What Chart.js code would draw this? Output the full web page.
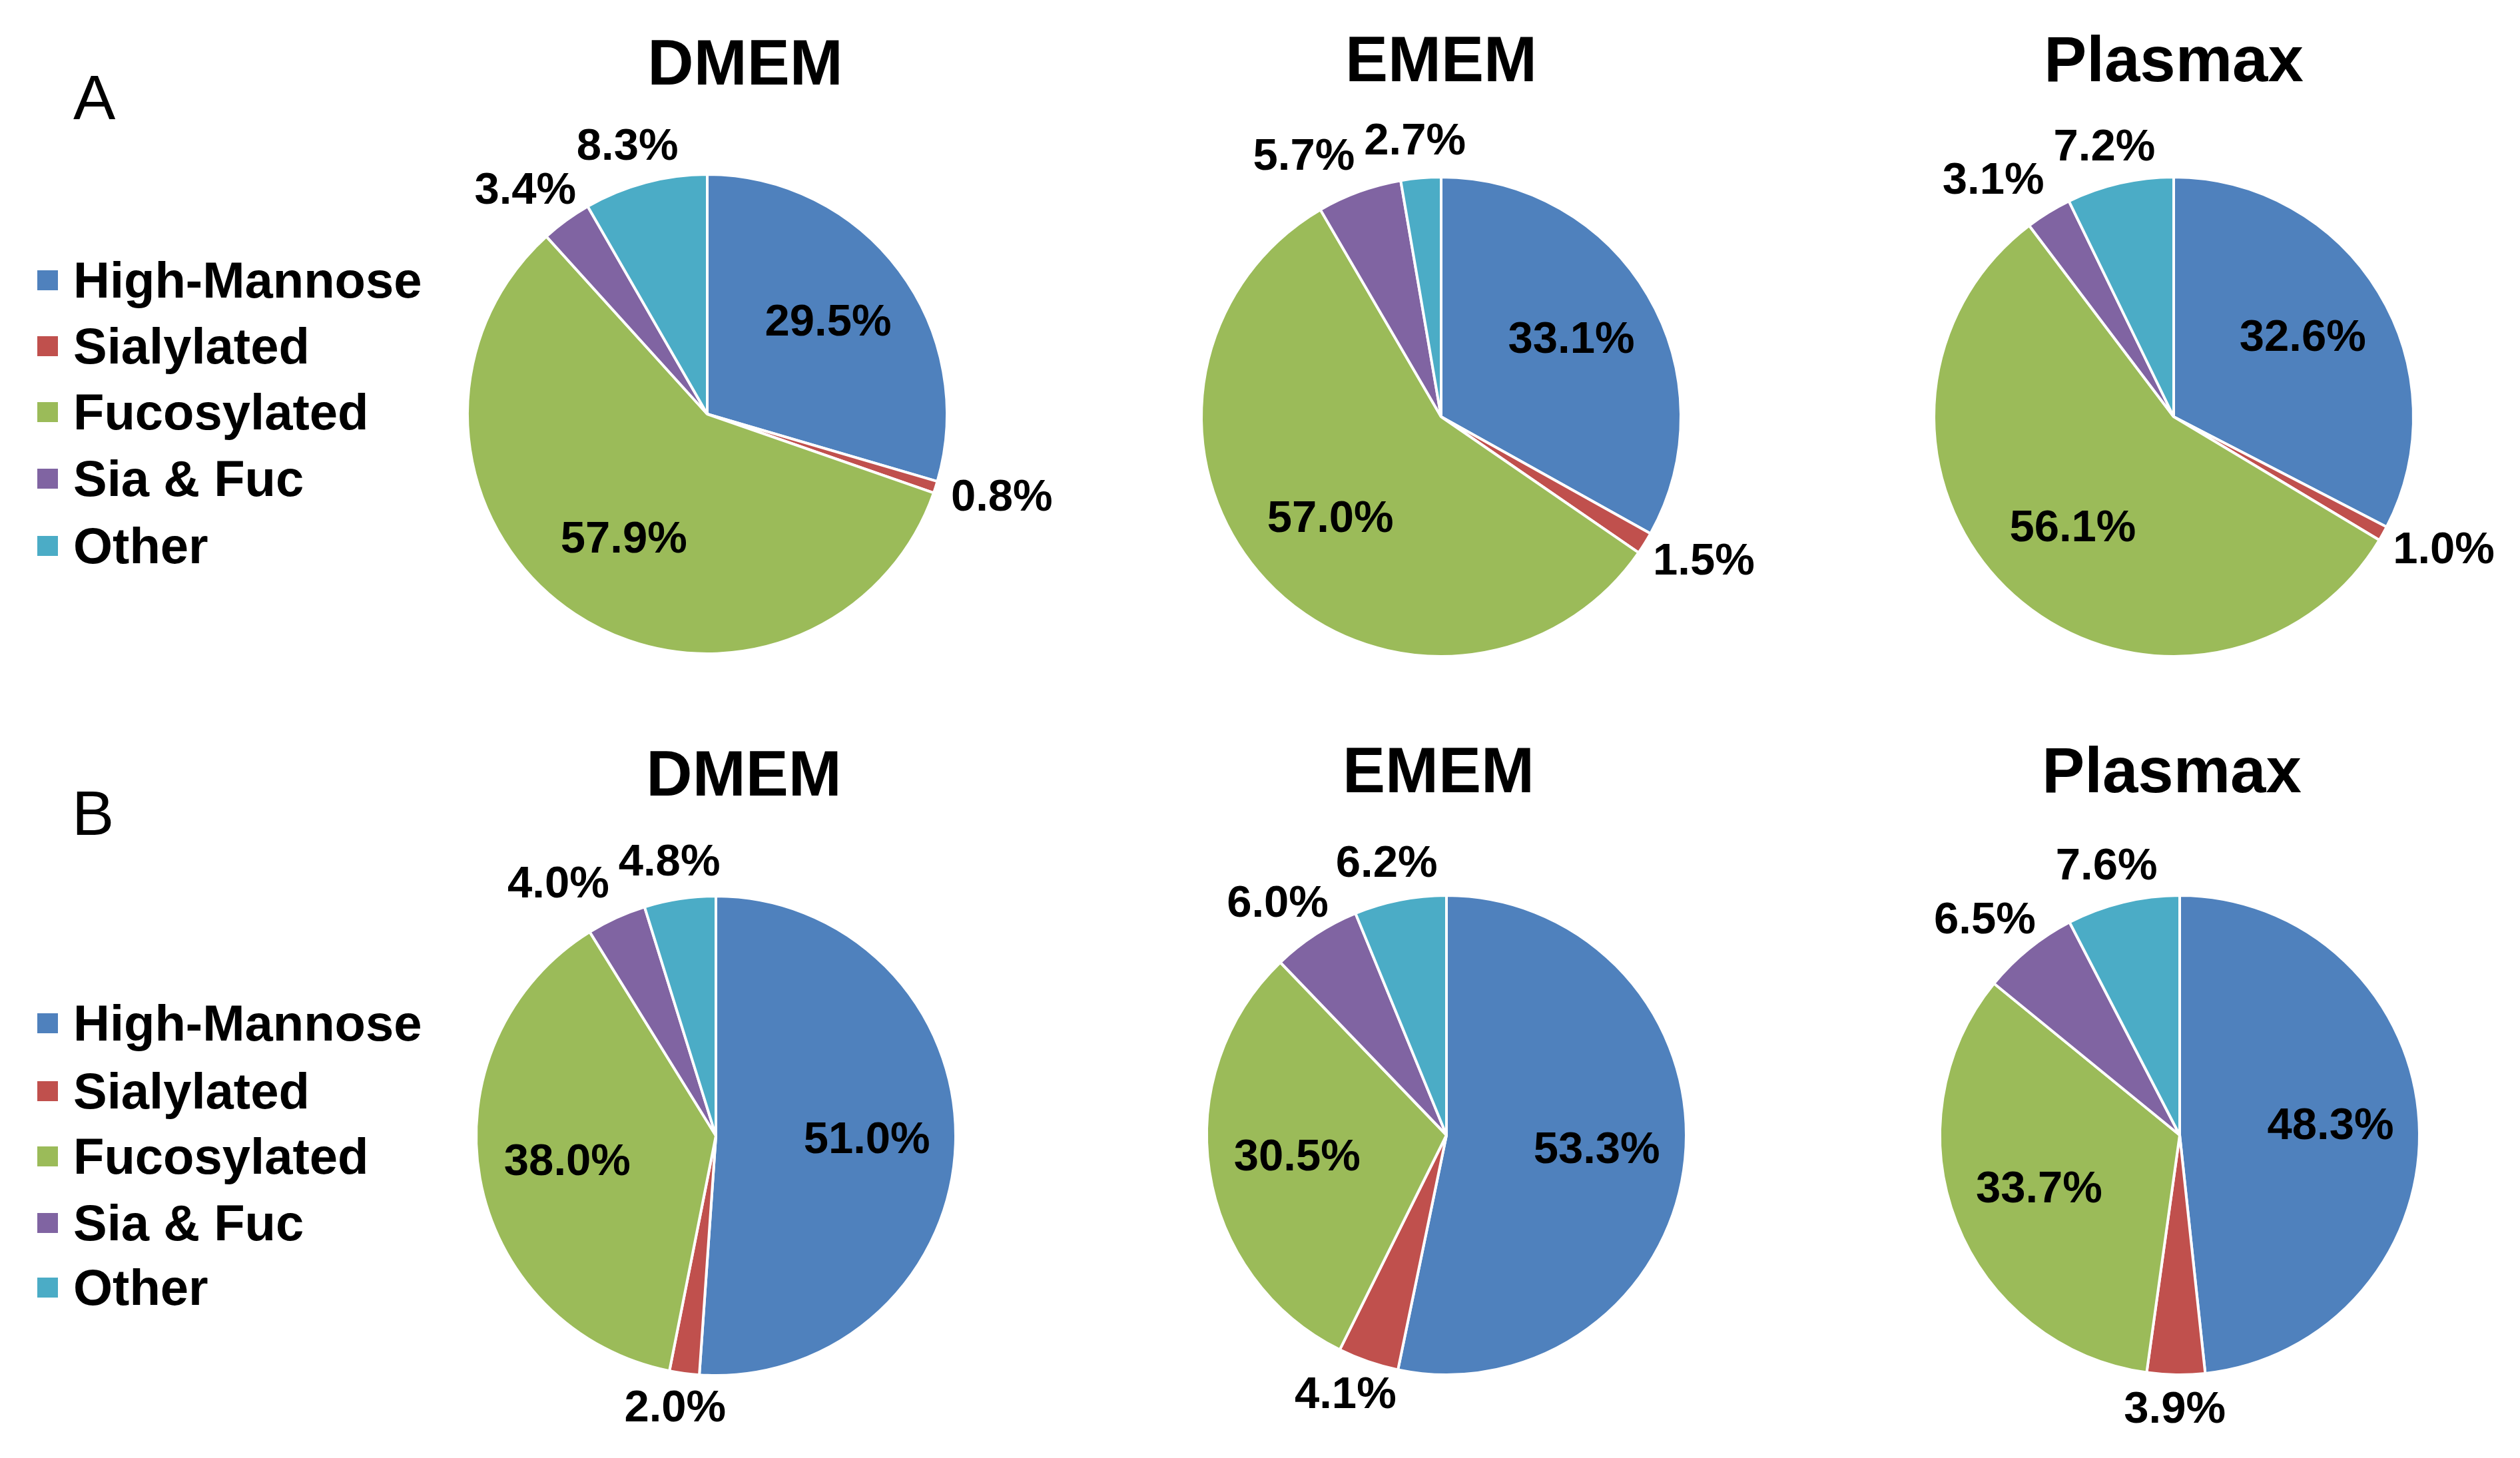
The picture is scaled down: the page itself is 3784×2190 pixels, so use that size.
<!DOCTYPE html>
<html>
<head>
<meta charset="utf-8">
<script src="https://cdn.jsdelivr.net/npm/chart.js@4.4.1/dist/chart.umd.min.js"></script>
<style>
body { margin: 0; width: 3784px; height: 2190px; overflow: hidden; background: #fff; position: relative; font-family: "Liberation Sans", Arial, sans-serif; }
.txt { position: absolute; white-space: nowrap; line-height: 1; color: #000; }
canvas { position: absolute; }
</style>
</head>
<body>
<script>
// categories and colours (Excel 2010 palette)
const categories = ['High-Mannose', 'Sialylated', 'Fucosylated', 'Sia & Fuc', 'Other'];
const sliceColors = ['#4F81BD', '#C0504D', '#9BBB59', '#8064A2', '#4BACC6'];
const media = ['DMEM', 'EMEM', 'Plasmax'];
const panels = ['A', 'B'];

// percentages, in category order
const dmemA = [29.5, 0.8, 57.9, 3.4, 8.3];
const ememA = [33.1, 1.5, 57.0, 5.7, 2.7];
const plasmaxA = [32.6, 1.0, 56.1, 3.1, 7.2];
const dmemB = [51.0, 2.0, 38.0, 4.0, 4.8];
const ememB = [53.3, 4.1, 30.5, 6.0, 6.2];
const plasmaxB = [48.3, 3.9, 33.7, 6.5, 7.6];

const rowsData = [[dmemA, ememA, plasmaxA], [dmemB, ememB, plasmaxB]];

// page layout
const pieCenters = [
    [[1062, 622], [2164, 626], [3264, 626]],
    [[1075, 1706], [2172, 1705], [3273, 1705]]
];
const titlePos = [
    [[1119, 127], [2164, 122], [3264, 122]],
    [[1117, 1195], [2160, 1190], [3261, 1190]]
];
const panelLetterPos = [[110, 179], [108, 1254]];
const legendRows = [[421, 520, 619, 719, 820], [1537, 1639, 1737, 1837, 1934]];
const CANVAS = 1100;
const RADIUS = 360;

function addText(str, left, baseline, size, bold, center) {
    const d = document.createElement('div');
    d.className = 'txt';
    d.textContent = str;
    d.style.fontSize = size + 'px';
    d.style.fontWeight = bold ? 'bold' : 'normal';
    d.style.top = (baseline - 0.8465 * size) + 'px';
    d.style.left = left + 'px';
    if (center) d.style.transform = 'translateX(-50%)';
    document.body.appendChild(d);
}

// percentage labels, placed from the arcs the library computed
const sliceLabels = {
    id: 'sliceLabels',
    afterDatasetsDraw(chart) {
        const ctx = chart.ctx;
        const meta = chart.getDatasetMeta(0);
        const values = chart.data.datasets[0].data;
        const total = values.reduce((a, b) => a + b, 0);
        ctx.save();
        ctx.font = 'bold 67px "Liberation Sans", Arial, sans-serif';
        ctx.fillStyle = '#000';
        ctx.textAlign = 'center';
        ctx.textBaseline = 'middle';
        const outside = [];
        meta.data.forEach((arc, i) => {
            const p = arc.getProps(['x', 'y', 'startAngle', 'endAngle', 'outerRadius'], true);
            const mid = (p.startAngle + p.endAngle) / 2;
            const dx = Math.cos(mid), dy = Math.sin(mid);
            const text = values[i].toFixed(1) + '%';
            const w = ctx.measureText(text).width;
            const h = 52;
            if (values[i] / total > 0.15) {
                const rr = p.outerRadius * 0.63;
                ctx.fillText(text, p.x + dx * rr, p.y + dy * rr);
            } else {
                const rr = p.outerRadius + 28;
                outside.push({ text: text, w: w, h: h, x: p.x + dx * rr + dx * w / 2, y: p.y + dy * rr + dy * h / 2 });
            }
        });
        // push overlapping outside labels apart, last slice first
        const placed = [];
        for (let k = outside.length - 1; k >= 0; k--) {
            const L = outside[k];
            placed.forEach(o => {
                if (Math.abs(L.x - o.x) < (L.w + o.w) / 2 + 8 && Math.abs(L.y - o.y) < (L.h + o.h) / 2) {
                    const s = L.x < o.x ? -1 : 1;
                    L.x = o.x + s * ((L.w + o.w) / 2 + 14);
                }
            });
            placed.push(L);
        }
        placed.forEach(L => ctx.fillText(L.text, L.x, L.y));
        ctx.restore();
    }
};

const pad = (CANVAS - (2 * RADIUS + 4)) / 2;

rowsData.forEach((row, r) => {
    // panel letter
    addText(panels[r], panelLetterPos[r][0], panelLetterPos[r][1], 95, false, false);

    // legend
    categories.forEach((cat, i) => {
        const sq = document.createElement('div');
        sq.style.position = 'absolute';
        sq.style.left = '56px';
        sq.style.top = (legendRows[r][i] - 15) + 'px';
        sq.style.width = '31px';
        sq.style.height = '30px';
        sq.style.background = sliceColors[i];
        document.body.appendChild(sq);
        addText(cat, 110, legendRows[r][i] + 26, 76, true, false);
    });

    row.forEach((values, c) => {
        const [cx, cy] = pieCenters[r][c];
        addText(media[c], titlePos[r][c][0], titlePos[r][c][1], 96, true, true);

        const canvas = document.createElement('canvas');
        canvas.width = CANVAS;
        canvas.height = CANVAS;
        canvas.style.left = (cx - CANVAS / 2) + 'px';
        canvas.style.top = (cy - CANVAS / 2) + 'px';
        document.body.appendChild(canvas);

        new Chart(canvas.getContext('2d'), {
            type: 'pie',
            data: {
                labels: categories,
                datasets: [{
                    data: values,
                    backgroundColor: sliceColors,
                    borderColor: '#ffffff',
                    borderWidth: 4
                }]
            },
            options: {
                responsive: false,
                animation: false,
                devicePixelRatio: 1,
                layout: { padding: pad },
                plugins: {
                    legend: { display: false },
                    tooltip: { enabled: false }
                }
            },
            plugins: [sliceLabels]
        });
    });
});
</script>
</body>
</html>
